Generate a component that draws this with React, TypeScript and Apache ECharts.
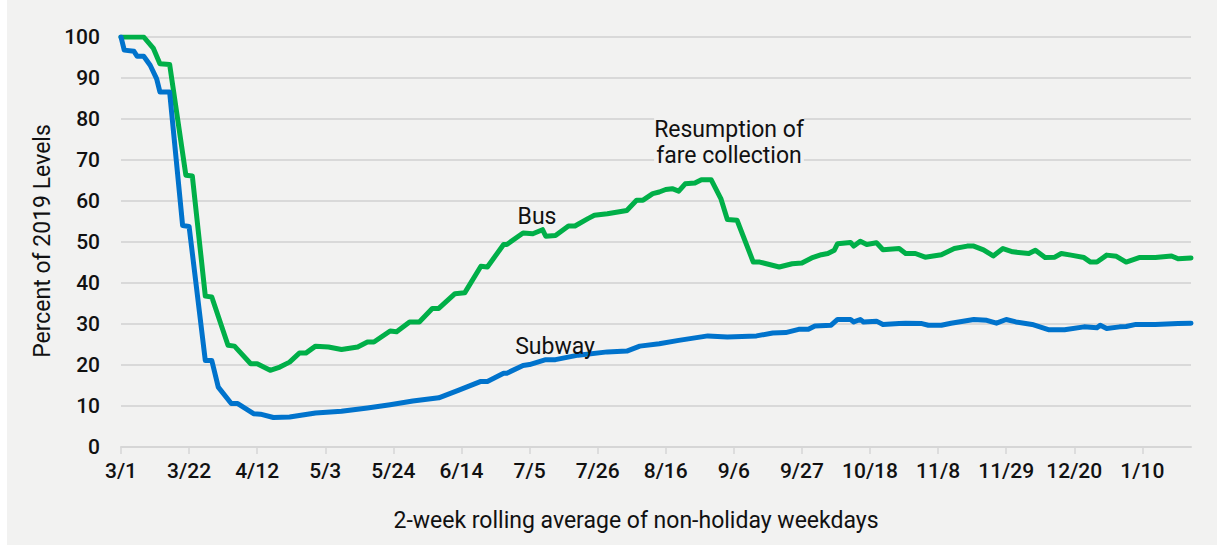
import React, { useEffect, useRef } from "react";
import * as echarts from "echarts";

// x-axis tick labels, every 21 days starting 3/1/2020
const tickLabels = ["3/1", "3/22", "4/12", "5/3", "5/24", "6/14", "7/5", "7/26", "8/16", "9/6", "9/27", "10/18", "11/8", "11/29", "12/20", "1/10"];

// Bus ridership: days since 3/1 and percent of 2019 levels
const busDays = [0, 7, 10, 12, 15, 20, 22, 26, 28, 33, 35, 40, 42, 46, 49, 52, 55, 57, 60, 64, 68, 73, 76, 78, 83, 85, 89, 92, 96, 98, 103, 106, 111, 113, 118, 119, 124, 127, 130, 131, 134, 138, 140, 144, 146, 150, 156, 159, 161, 164, 166, 168, 170, 172, 174, 177, 179, 182, 185, 187, 190, 195, 197, 203, 207, 210, 213, 216, 218, 220, 221, 225, 226, 228, 230, 233, 235, 240, 242, 245, 248, 253, 257, 261, 263, 266, 269, 272, 275, 280, 282, 285, 288, 290, 293, 297, 299, 301, 304, 307, 310, 314, 319, 324, 326, 330];
const busValues = [100, 100, 97.2, 93.5, 93.3, 66.3, 66.1, 36.8, 36.6, 24.8, 24.6, 20.3, 20.3, 18.7, 19.5, 20.7, 22.9, 22.9, 24.6, 24.4, 23.8, 24.4, 25.6, 25.6, 28.3, 28.1, 30.5, 30.5, 33.8, 33.8, 37.4, 37.6, 44.1, 43.9, 49.4, 49.4, 52.2, 52.0, 53.0, 51.4, 51.6, 53.9, 53.9, 55.7, 56.5, 56.9, 57.7, 60.2, 60.2, 61.8, 62.2, 62.8, 63.0, 62.4, 64.2, 64.4, 65.2, 65.2, 60.6, 55.5, 55.3, 45.1, 45.1, 43.9, 44.7, 44.9, 46.1, 46.9, 47.2, 48.0, 49.6, 49.9, 49.0, 50.2, 49.4, 49.8, 48.1, 48.4, 47.2, 47.2, 46.3, 46.9, 48.4, 49.0, 49.0, 48.1, 46.6, 48.4, 47.6, 47.2, 48.0, 46.2, 46.3, 47.2, 46.8, 46.2, 45.1, 45.1, 46.8, 46.5, 45.1, 46.2, 46.2, 46.6, 45.9, 46.1];

// Subway ridership
const subwayDays = [0, 1, 4, 5, 7, 9, 11, 12, 15, 19, 21, 26, 28, 30, 34, 36, 41, 43, 47, 52, 60, 68, 76, 83, 90, 98, 104, 111, 113, 118, 119, 124, 126, 131, 134, 141, 150, 156, 160, 166, 172, 181, 187, 196, 201, 205, 209, 212, 214, 219, 221, 225, 226, 228, 229, 233, 235, 240, 242, 247, 249, 253, 256, 263, 267, 270, 273, 276, 281, 286, 291, 297, 301, 302, 304, 308, 310, 313, 319, 326, 330];
const subwayValues = [100, 96.8, 96.5, 95.3, 95.3, 93.1, 89.8, 86.6, 86.6, 54.0, 53.8, 21.1, 21.1, 14.6, 10.6, 10.6, 8.1, 8.0, 7.2, 7.3, 8.3, 8.7, 9.5, 10.3, 11.2, 12.0, 13.8, 16.0, 16.0, 18.0, 18.0, 19.9, 20.1, 21.3, 21.3, 22.4, 23.2, 23.4, 24.6, 25.2, 26.0, 27.1, 26.8, 27.1, 27.8, 27.9, 28.7, 28.7, 29.5, 29.7, 31.1, 31.1, 30.5, 31.1, 30.5, 30.7, 29.9, 30.1, 30.2, 30.1, 29.7, 29.7, 30.2, 31.1, 30.9, 30.2, 31.1, 30.5, 29.9, 28.6, 28.6, 29.3, 29.1, 29.7, 28.9, 29.3, 29.4, 29.9, 29.9, 30.1, 30.2];

const FONT = "Roboto";
const BG = "#f2f2f1";

export default function App() {
  const ref = useRef<HTMLDivElement>(null);
  useEffect(() => {
    if (!ref.current) return;
    const chart = echarts.init(ref.current, undefined, { renderer: "svg" });
    const bus = busDays.map((d, i) => [d, busValues[i]]);
    const subway = subwayDays.map((d, i) => [d, subwayValues[i]]);
    chart.setOption({
      animation: false,
      grid: { left: 121, right: 26, top: 37, bottom: 98 },
      xAxis: {
        type: "value",
        min: 0,
        max: 330,
        interval: 21,
        axisLine: { show: true, lineStyle: { color: "#d6d6d6", width: 2 } },
        axisTick: { show: true, length: 7, lineStyle: { color: "#d6d6d6", width: 1.5 } },
        splitLine: { show: false },
        axisLabel: {
          margin: 13,
          fontFamily: FONT,
          fontSize: 21,
          fontWeight: 500,
          color: "#111",
          showMaxLabel: false,
          formatter: (v: number) => tickLabels[Math.round(v / 21)] ?? "",
        },
      },
      yAxis: {
        type: "value",
        min: 0,
        max: 100,
        interval: 10,
        axisLine: { show: false },
        axisTick: { show: false },
        splitLine: { show: true, lineStyle: { color: "#d9d9d9", width: 2 } },
        axisLabel: { margin: 21, fontFamily: FONT, fontSize: 21, fontWeight: 500, color: "#111" },
      },
      series: [
        {
          name: "Bus",
          type: "line",
          data: bus,
          showSymbol: false,
          lineStyle: { color: "#00AF48", width: 5, join: "round", cap: "round" },
          z: 3,
        },
        {
          name: "Subway",
          type: "line",
          data: subway,
          showSymbol: false,
          lineStyle: { color: "#0073CC", width: 5, join: "round", cap: "round" },
          z: 4,
        },
      ],
      graphic: [
        {
          type: "text",
          x: 42,
          y: 241,
          rotation: Math.PI / 2,
          z: 100,
          style: { text: "Percent of 2019 Levels", fontFamily: FONT, fontSize: 23, fill: "#111", align: "center", verticalAlign: "middle" },
        },
        {
          type: "text",
          x: 636,
          y: 520,
          z: 100,
          style: { text: "2-week rolling average of non-holiday weekdays", fontFamily: FONT, fontSize: 23, fill: "#111", align: "center", verticalAlign: "middle" },
        },
        {
          type: "text",
          x: 537,
          y: 216,
          z: 100,
          style: { text: "Bus", fontFamily: FONT, fontSize: 23, fill: "#111", align: "center", verticalAlign: "middle" },
        },
        {
          type: "text",
          x: 555,
          y: 346,
          z: 100,
          style: { text: "Subway", fontFamily: FONT, fontSize: 23, fill: "#111", align: "center", verticalAlign: "middle" },
        },
        {
          type: "text",
          x: 729,
          y: 142,
          z: 100,
          style: {
            text: "Resumption of\nfare collection",
            fontFamily: FONT,
            fontSize: 23,
            lineHeight: 26,
            fill: "#111",
            align: "center",
            verticalAlign: "middle",
            backgroundColor: BG,
          },
        },
      ],
    });
    return () => chart.dispose();
  }, []);
  return (
    <div style={{ position: "fixed", left: 0, top: 0, width: 1217, height: 545, background: "#ffffff" }}>
      <div style={{ position: "absolute", left: 7, top: 0, width: 1210, height: 545, background: BG }} />
      <div ref={ref} style={{ position: "absolute", left: 0, top: 0, width: 1217, height: 545 }} />
    </div>
  );
}
